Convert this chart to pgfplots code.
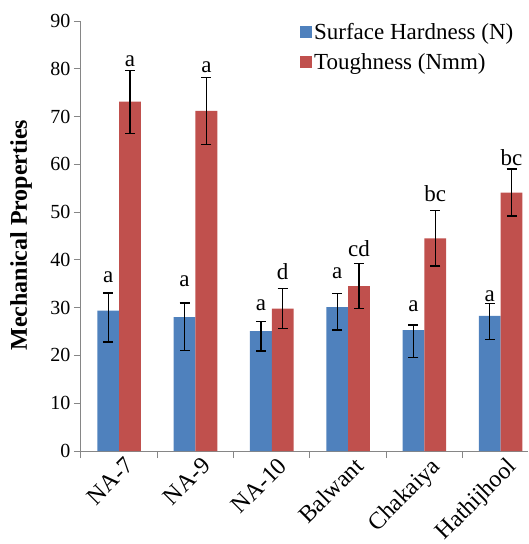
\documentclass[border=0pt]{standalone}
\usepackage{fontspec}
\setmainfont{Liberation Serif}
\newfontfamily\tnr{Liberation Serif}
\usepackage{pgfplots}
\pgfplotsset{compat=1.18}
\definecolor{barblue}{HTML}{4F81BD}
\definecolor{barred}{HTML}{C0504D}
\definecolor{axgray}{HTML}{868686}
\begin{document}
\begin{tikzpicture}
\begin{axis}[
  scale only axis, width=447pt, height=430pt,
  xmin=-0.5, xmax=5.358, ymin=0, ymax=90,
  ytick={0,10,...,90},
  axis x line*=bottom, axis y line*=left,
  axis line style={axgray, line width=1pt},
  tick style={axgray, line width=1pt},
  tick align=outside, major tick length=7pt,
  xtick={-0.5,0.5,1.5,2.5,3.5,4.5}, xticklabels={,,,,,},
  extra x ticks={0,1,2,3,4,5},
  extra x tick labels={NA-7,NA-9,NA-10,Balwant,Chakaiya,Hathijhool},
  extra x tick style={major tick length=0pt, tick style={draw=none},
    xticklabel style={rotate=45, anchor=north east, inner sep=2pt, xshift=2pt, yshift=-5pt, font=\tnr\fontsize{24}{28}\selectfont}},
  yticklabel style={font=\tnr\fontsize{20}{24}\selectfont},
  /pgf/number format/assume math mode=true,
  ylabel={Mechanical Properties},
  ylabel style={font=\tnr\bfseries\fontsize{24}{28}\selectfont, at={(axis description cs:-0.134,0.502)}, anchor=center},
  legend style={at={(0.483,1.005)}, anchor=north west, draw=none, fill=none,
    font=\tnr\fontsize{23}{26}\selectfont, legend cell align=left, row sep=9pt,
    /tikz/every even column/.append style={column sep=3pt}},
]
\addplot[ybar, bar width=21.8pt, bar shift=0pt, fill=barblue, draw=none,
  legend image code/.code={\fill[barblue] (0pt,-6pt) rectangle (12pt,6pt);},
  error bars/.cd, y dir=both, y explicit,
  error bar style={black, line width=1.3pt},
  error mark options={rotate=90, black, line width=1.3pt, mark size=5pt}]
coordinates {
 (-0.143,29.4) += (0,3.7) -= (0,6.6)
 (0.857,28.0) += (0,3.0) -= (0,6.9)
 (1.857,25.1) += (0,2.0) -= (0,4.2)
 (2.857,30.1) += (0,2.9) -= (0,4.8)
 (3.857,25.3) += (0,1.1) -= (0,5.8)
 (4.857,28.3) += (0,2.6) -= (0,4.9)
};
\addlegendentry{Surface Hardness (N)}
\addplot[ybar, bar width=21.8pt, bar shift=0pt, fill=barred, draw=none,
  legend image code/.code={\fill[barred] (0pt,-6pt) rectangle (12pt,6pt);},
  error bars/.cd, y dir=both, y explicit,
  error bar style={black, line width=1.3pt},
  error mark options={rotate=90, black, line width=1.3pt, mark size=5pt}]
coordinates {
 (0.143,73.1) +- (0,6.6)
 (1.143,71.2) +- (0,7.0)
 (2.143,29.8) +- (0,4.2)
 (3.143,34.5) +- (0,4.7)
 (4.143,44.5) +- (0,5.8)
 (5.143,54.1) +- (0,4.9)
};
\addlegendentry{Toughness (Nmm)}
\addplot[forget plot, only marks, mark=*, mark size=0pt, mark options={draw=none, fill=none},
  nodes near coords, point meta=explicit symbolic,
  nodes near coords style={anchor=base, inner sep=0pt, black, font=\tnr\fontsize{23}{26}\selectfont}]
coordinates {
 (-0.143,35.2) [a] (0.143,80.4) [a]
 (0.857,34.5) [a] (1.143,79.2) [a]
 (1.857,29.5) [a] (2.143,35.8) [d]
 (2.857,36.1) [a] (3.143,40.7) [cd]
 (3.857,29.2) [a] (4.143,52.2) [bc]
 (4.857,31.2) [a] (5.143,59.7) [bc]
};
\end{axis}
\pgfresetboundingbox
\useasboundingbox (-81pt,-93pt) rectangle (447pt,451pt);
\end{tikzpicture}
\end{document}
